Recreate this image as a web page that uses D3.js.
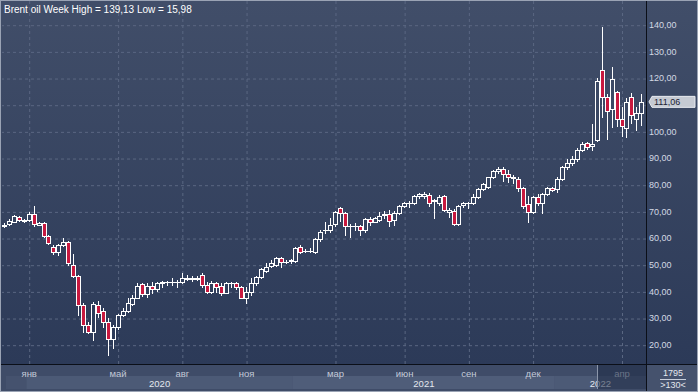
<!DOCTYPE html>
<html><head><meta charset="utf-8">
<script src="https://cdn.jsdelivr.net/npm/d3@7"></script>
<style>html,body{margin:0;padding:0;background:#2e3b57;overflow:hidden}
svg{display:block;font-family:"Liberation Sans",Arial,sans-serif}</style>
</head><body><svg id="c" width="698" height="392"></svg>
<script>
// ---- data (weekly Brent candles) ----
const opens  = [64.6,65.1,66.1,68.0,66.5,66.6,69.0,65.0,65.5,60.6,56.5,54.6,57.4,58.4,49.9,45.8,34.9,27.4,24.9,34.8,32.8,28.4,22.1,26.8,31.1,32.8,35.1,37.7,42.6,39.0,
 42.0,40.8,43.0,43.5,43.6,43.5,43.6,44.8,44.9,44.5,46.1,42.4,39.9,43.0,42.0,39.3,43.0,43.0,41.5,37.4,39.6,43.0,45.25,47.75,49.5,49.9,52.4,51.0,51.3,51.5,
 56.5,55.2,55.2,54.9,59.5,62.9,63.0,65.25,71.1,69.5,64.4,64.4,64.5,63.0,67.0,66.2,66.75,68.7,69.0,66.75,69.25,72.0,73.0,73.25,75.75,75.9,76.1,73.9,73.0,75.75,
 69.6,70.25,65.25,72.4,73.0,73.0,75.25,78.25,79.25,82.75,85.3,85.75,84.0,82.6,82.0,78.6,72.75,69.9,75.5,73.3,76.5,78.6,78.25,82.0,86.75,88.25,89.5,93.0,95.5,94.4,
 96.75,123.2,112.75,108.25,114.9,104.7,101.1,112.75,104.5,106.75];
const highs  = [65.5,67.0,68.7,68.4,67.0,69.6,72.0,65.9,66.0,61.0,57.2,57.8,60.1,59.0,53.9,46.2,35.5,28.6,36.1,36.4,33.6,29.9,27.4,31.5,33.6,37.4,38.6,43.2,43.2,43.0,
 43.5,43.6,43.8,44.0,44.9,44.2,46.7,46.1,45.7,45.6,46.7,43.6,43.9,43.6,43.0,43.6,43.6,43.6,42.0,41.5,45.2,45.6,48.6,50.5,51.75,52.9,53.0,51.9,52.0,56.6,
 57.4,55.9,56.1,59.9,63.0,66.1,67.4,70.1,71.75,69.9,65.25,65.5,64.9,67.4,68.0,67.9,69.9,70.0,70.5,70.0,72.3,73.6,74.0,76.2,77.0,77.2,77.0,74.5,76.0,76.1,
 71.2,70.9,72.25,73.6,73.6,76.5,78.6,80.5,83.0,85.5,86.75,86.75,85.5,83.6,83.0,79.0,75.75,75.9,76.5,76.8,79.0,79.0,82.75,87.0,89.5,90.75,93.8,96.0,96.0,102.7,
 119.9,139.13,114.0,124.2,115.0,109.0,112.4,114.4,109.3,114.0];
const lows   = [64.3,64.8,65.9,66.4,66.2,66.4,64.6,64.7,60.3,57.6,53.9,53.8,57.0,50.0,45.3,31.1,24.9,24.5,21.8,30.5,26.8,15.98,18.6,25.8,30.8,32.4,34.9,37.4,38.2,37.8,
 39.5,40.0,41.8,42.5,42.4,41.5,43.0,44.2,43.9,44.2,41.8,39.3,39.3,39.9,38.6,39.3,41.5,41.0,37.4,35.75,38.8,42.5,44.9,47.3,49.0,49.6,49.25,50.5,50.75,51.0,
 54.5,54.7,54.9,54.5,59.0,62.0,62.4,64.5,66.5,61.1,60.25,63.0,61.1,62.4,64.9,66.0,66.5,67.5,64.5,64.9,69.0,71.8,71.5,72.9,74.9,75.2,72.0,67.4,72.4,70.0,
 68.0,65.0,64.9,71.8,71.2,72.8,74.9,77.9,78.9,82.5,84.5,81.5,81.1,80.5,77.75,71.1,66.1,69.5,72.4,69.25,76.0,77.6,77.4,81.6,86.0,87.4,89.0,92.6,93.4,93.0,
 96.4,105.5,97.3,101.5,101.9,98.3,98.0,103.0,100.4,102.5];
const closes = [65.0,66.4,68.2,66.6,66.6,69.0,65.1,65.5,60.6,58.2,54.6,57.4,58.4,50.5,45.8,34.9,27.4,24.9,35.3,31.8,28.6,22.1,26.8,31.1,32.6,35.7,37.7,42.1,39.2,42.0,
 40.8,43.2,43.6,43.6,43.5,43.6,44.9,44.9,44.8,45.2,42.4,39.9,43.0,41.75,39.3,43.25,43.1,41.75,37.6,39.6,43.0,45.25,48.25,49.25,50.75,52.4,51.1,51.2,51.6,56.1,
 54.9,55.3,55.3,59.5,62.4,63.0,65.0,69.9,69.25,64.5,64.6,64.6,63.0,67.0,66.1,67.4,68.25,69.0,66.5,69.5,72.0,73.0,73.3,75.75,76.5,76.6,73.25,74.1,75.25,70.5,
 70.5,65.25,72.0,73.25,73.1,75.5,78.25,80.1,82.75,85.25,86.0,84.0,82.75,82.75,78.6,72.0,69.9,75.5,73.25,76.4,78.6,78.0,82.0,86.75,88.25,89.5,93.0,95.4,94.0,95.2,
 118.9,112.75,107.75,119.5,104.8,102.1,111.1,106.0,106.75,111.06];

const monthLabels = ["янв","май","авг","ноя","мар","июн","сен","дек","апр"];
const monthBars   = [5,23,36,49,67,81,94,107,125];
const yearLabels  = ["2020","2021","2022"];
const yearBars    = [5,59,112];
const priceTicks  = [20,30,40,50,60,70,80,90,100,110,120,130,140];
const titleText   = "Brent oil Week High = 139,13 Low = 15,98";
const lastPrice   = 111.06;
const barsTotalLabel = "1795";
const zoomLabel   = ">130<";

// ---- layout ----
const W=698,H=392, PL=2, PR=646, PT=0, PB=364;
const n = closes.length;
const fmt = v=>d3.format(".2f")(v).replace(".",",");
const svg = d3.select("#c");
const defs = svg.append("defs");
const g1 = defs.append("linearGradient").attr("id","bg").attr("gradientUnits","userSpaceOnUse")
  .attr("x1",0).attr("y1",0).attr("x2",0).attr("y2",PB);
g1.append("stop").attr("offset",0).attr("stop-color","#414e69");
g1.append("stop").attr("offset",1).attr("stop-color","#2c3a58");

svg.append("rect").attr("x",0).attr("y",0).attr("width",W).attr("height",H).attr("fill","url(#bg)");

const x = d3.scaleLinear().domain([0,n-1]).range([4, 4+4.94*(n-1)]);
const y = d3.scaleLinear().domain([20,140]).range([344.7,24.7]);
const step = x(1)-x(0);

// grid (horizontal)
const gy = svg.append("g").attr("transform",`translate(${PR},0)`)
  .call(d3.axisLeft(y).tickValues(priceTicks).tickSize(PR-PL).tickFormat(""));
gy.select(".domain").remove();
gy.selectAll(".tick line").attr("stroke","#5a6782").attr("stroke-dasharray","3,3")
  .attr("transform","translate(0,0.5)");
// grid (vertical)
const gx = svg.append("g").attr("transform",`translate(0,${PB})`)
  .call(d3.axisTop(x).tickValues(monthBars).tickSize(PB-PT).tickFormat(""));
gx.select(".domain").remove();
gx.selectAll(".tick line").attr("stroke","#5a6782").attr("stroke-dasharray","3,3")
  .attr("transform","translate(0.5,0)");

// candles
const data = d3.range(n).map(i=>({i,o:opens[i],h:highs[i],l:lows[i],c:closes[i]}));
const cg = svg.append("g");
const px = d=>Math.round(x(d.i));
cg.selectAll("line.w").data(data).join("line").attr("class","w")
  .attr("x1",d=>px(d)+0.5).attr("x2",d=>px(d)+0.5)
  .attr("y1",d=>Math.round(y(d.h))).attr("y2",d=>Math.round(y(d.l))+1)
  .attr("stroke","#ffffff").attr("stroke-width",1);
cg.selectAll("g.b").data(data).join(enter=>{
  const g=enter.append("g");
  g.each(function(d){
    const sel=d3.select(this);
    const top=Math.round(y(Math.max(d.o,d.c))), bot=Math.round(y(Math.min(d.o,d.c)));
    if(bot-top<1){
      sel.append("line").attr("x1",px(d)-2).attr("x2",px(d)+3)
        .attr("y1",top+0.5).attr("y2",top+0.5).attr("stroke","#fff");
    } else {
      sel.append("rect").attr("x",px(d)-1.5).attr("y",top+0.5).attr("width",4).attr("height",bot-top)
        .attr("fill", d.c>=d.o ? "url(#bg)" : "#c8193f").attr("stroke","#fff").attr("stroke-width",1);
    }
  });
  return g;
});

// plot borders
svg.append("line").attr("x1",PR+0.5).attr("x2",PR+0.5).attr("y1",0).attr("y2",H).attr("stroke","#0b0f18");
svg.append("line").attr("x1",0).attr("x2",W).attr("y1",PB+0.5).attr("y2",PB+0.5).attr("stroke","#0b0f18");

// title
svg.append("text").attr("x",4).attr("y",13).attr("fill","#ffffff").attr("font-size",10).text(titleText);

// right axis labels (the one hidden under the last-price marker is skipped)
const ly = y(lastPrice);
const labelTicks = priceTicks.filter(v=>Math.abs(y(v)-ly)>8);
const ay = svg.append("g").attr("transform",`translate(${PR+3},0)`)
  .call(d3.axisRight(y).tickValues(labelTicks).tickSize(0).tickPadding(0).tickFormat(fmt));
ay.select(".domain").remove();
ay.selectAll("text").attr("fill","#d3d9e4").attr("font-size",9).attr("font-family","Liberation Sans,Arial,sans-serif");

// last price marker
svg.append("path").attr("d",`M${PR+3},${ly} L${PR+6},${ly-5.5} H${W-3} V${ly+5.5} H${PR+6} Z`)
  .attr("fill","#c5cad3").attr("stroke","#e8ebf0");
svg.append("text").attr("x",PR+8).attr("y",ly).attr("dy","0.35em").attr("font-size",9)
  .attr("fill","#1c2233").text(fmt(lastPrice));

// bottom panel
const bp = svg.append("g");
bp.append("rect").attr("x",0).attr("y",PB+1).attr("width",PR).attr("height",H-PB-1).attr("fill","#3f4c68");
const yb = [...yearBars, n];
yearLabels.forEach((t,k)=>{
  const x0 = x(yb[k])-step/2, x1 = k<yearLabels.length-1 ? x(yb[k+1])-step/2 : PR;
  bp.append("rect").attr("x",x0).attr("y",376).attr("width",x1-x0).attr("height",13)
    .attr("fill", k%2===0 ? "#4c5a76" : "#4f5d79");
  bp.append("text").attr("x",(x0+x1)/2).attr("y",387).attr("text-anchor","middle")
    .attr("font-size",9.5).attr("fill","#e3e7ee").text(t);
});
bp.append("rect").attr("x",6).attr("y",376).attr("width",x(yearBars[0])-step/2-6).attr("height",13).attr("fill","#45526e");
const ax = bp.append("g").attr("transform",`translate(0,${PB})`)
  .call(d3.axisBottom(x).tickValues(monthBars).tickSize(0).tickPadding(6)
  .tickFormat((v,k)=>monthLabels[k]));
ax.select(".domain").remove();
ax.selectAll("text").attr("fill","#c3cad8").attr("font-size",9.5).attr("font-family","Liberation Sans,Arial,sans-serif");
// scroll thumb
bp.append("rect").attr("x",597).attr("y",PB+1).attr("width",PR-597).attr("height",24).attr("fill","#1e2a44").attr("opacity",0.55);
bp.append("line").attr("x1",597.5).attr("x2",597.5).attr("y1",PB+1).attr("y2",389).attr("stroke","#8c96aa");

// corner box
svg.append("rect").attr("x",PR+1).attr("y",PB+1).attr("width",W-PR-1).attr("height",H-PB-1).attr("fill","#45526d");
svg.append("text").attr("x",673).attr("y",376).attr("text-anchor","middle").attr("font-size",9).attr("fill","#e3e7ee").text(barsTotalLabel);
svg.append("line").attr("x1",660).attr("x2",686).attr("y1",379.5).attr("y2",379.5).attr("stroke","#c8cfdb");
svg.append("text").attr("x",673).attr("y",388).attr("text-anchor","middle").attr("font-size",9).attr("fill","#e3e7ee").text(zoomLabel);

// outer frame
svg.append("rect").attr("x",0.5).attr("y",0.5).attr("width",W-1).attr("height",H-1).attr("fill","none").attr("stroke","#9aa3b4");
</script></body></html>
